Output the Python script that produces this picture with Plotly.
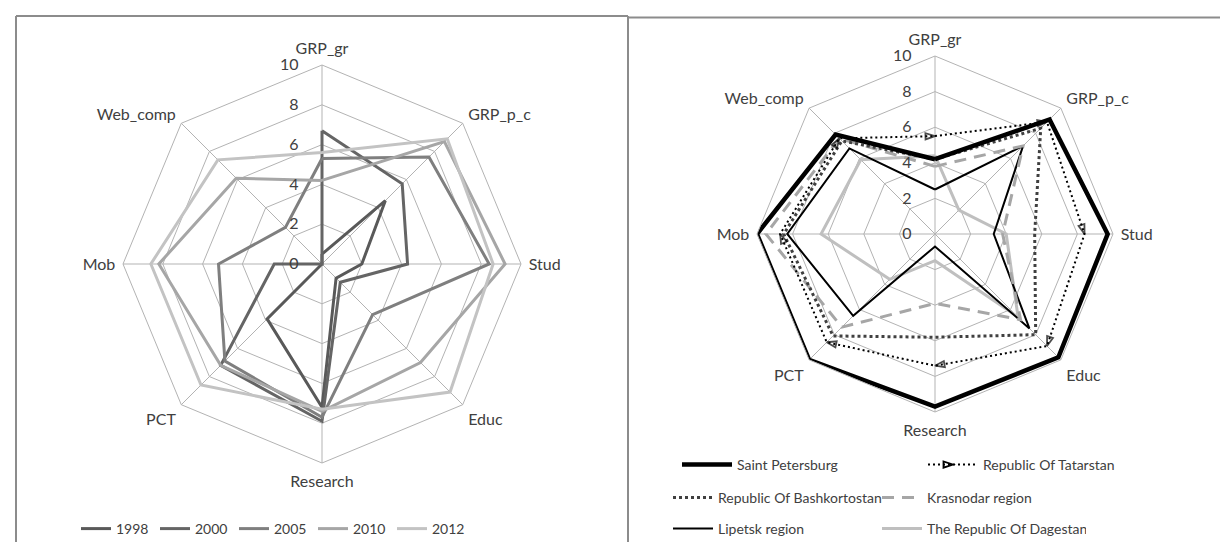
import plotly.graph_objects as go

# ---------------- data ----------------
categories = ["GRP_gr", "GRP_p_c", "Stud", "Educ", "Research", "PCT", "Mob", "Web_comp"]
radial_ticks = [0, 2, 4, 6, 8, 10]

years = ["1998", "2000", "2005", "2010", "2012"]
v1998 = [0.5, 4.5, 2.0, 1.0, 7.2, 3.9, 0.0, 0.0]
v2000 = [6.7, 5.7, 4.3, 1.3, 7.9, 7.2, 2.4, 0.0]
v2005 = [5.3, 7.6, 8.4, 3.6, 7.7, 6.9, 5.2, 2.6]
v2010 = [4.2, 8.7, 9.2, 7.0, 7.4, 7.2, 8.2, 6.1]
v2012 = [5.6, 8.9, 8.6, 9.1, 7.3, 8.6, 8.6, 7.4]

regions = ["Saint Petersburg", "Republic Of Tatarstan", "Republic Of Bashkortostan",
           "Krasnodar region", "Lipetsk region", "The Republic Of Dagestan"]
spb = [4.2, 9.1, 9.7, 9.8, 9.7, 10.0, 10.0, 7.9]
tat = [5.5, 8.9, 8.4, 8.9, 7.4, 8.6, 8.7, 7.6]
bash = [4.2, 8.4, 5.6, 8.0, 5.8, 8.1, 8.5, 7.4]
kras = [3.8, 7.0, 3.8, 6.8, 3.9, 7.4, 9.5, 7.6]
lip = [2.5, 7.0, 3.3, 7.5, 0.7, 6.5, 8.3, 6.8]
dag = [4.4, 1.9, 4.0, 6.6, 1.5, 3.6, 6.4, 5.9]

FONT = "Lato"
TXT = "#404040"
W, H = 1228, 542
PAD = "\u2007\u2007\u2009"  # trailing spacing so radial labels sit left of the axis


def closed(v):
    return list(v) + [v[0]]


theta = closed(categories)
radial_text = [str(t) + PAD for t in radial_ticks]

fig = go.Figure()

# ---------------- left chart ----------------
left_series = [v1998, v2000, v2005, v2010, v2012]
left_colors = ["#595959", "#656565", "#7f7f7f", "#a6a6a6", "#c3c3c3"]
for k, (name, vals, col) in enumerate(zip(years, left_series, left_colors)):
    fig.add_trace(go.Scatterpolar(
        r=closed(vals), theta=theta, mode="lines", name=name, legendrank=k,
        line=dict(color=col, width=3), subplot="polar", legend="legend"))

# ---------------- right chart ----------------
right_styles = [
    (spb, dict(color="#000000", width=4.5), "legend2"),
    (tat, dict(color="#000000", width=2, dash="2px,3px"), "legend2"),
    (bash, dict(color="#404040", width=3, dash="dot"), "legend3"),
    (kras, dict(color="#a6a6a6", width=3, dash="12px,8px"), "legend3"),
    (lip, dict(color="#000000", width=2), "legend4"),
    (dag, dict(color="#bfbfbf", width=3), "legend4"),
]
draw_order = [5, 4, 3, 2, 1, 0]
for i in draw_order:
    vals, ln, lg = right_styles[i]
    if i == 1:
        fig.add_trace(go.Scatterpolar(
            r=closed(vals), theta=theta, mode="lines+markers", name=regions[i],
            line=ln, subplot="polar2", legend=lg, showlegend=False,
            marker=dict(symbol="arrow-open", size=[0] + [10] * len(vals),
                        angleref="previous", color="#000000",
                        line=dict(color="#000000", width=1.8))))
    else:
        fig.add_trace(go.Scatterpolar(
            r=closed(vals), theta=theta, mode="lines", name=regions[i],
            legendrank=i, line=ln, subplot="polar2", legend=lg))

# legend-only entry for Tatarstan (arrow pointing right)
fig.add_trace(go.Scatterpolar(
    r=[None], theta=[None], mode="lines+markers", name=regions[1], legendrank=1,
    line=dict(color="#000000", width=2, dash="2px,3px"),
    marker=dict(symbol="arrow-open", size=10, angle=90, color="#000000",
                line=dict(color="#000000", width=1.8)),
    subplot="polar2", legend="legend2"))


def polar_cfg(cx, cy, rad):
    return dict(
        domain=dict(x=[(cx - rad) / W, (cx + rad) / W],
                    y=[(H - cy - rad) / H, (H - cy + rad) / H]),
        bgcolor="white",
        gridshape="linear",
        angularaxis=dict(rotation=90, direction="clockwise", showgrid=True,
                         gridcolor="#b3b3b3", gridwidth=1, showline=True,
                         linecolor="#b3b3b3", linewidth=1, ticks="outside",
                         ticklen=4, tickcolor="rgba(0,0,0,0)",
                         tickfont=dict(family=FONT, size=16, color=TXT)),
        radialaxis=dict(range=[0, 10], tickvals=radial_ticks, ticktext=radial_text,
                        angle=90, showline=False, showgrid=True, gridcolor="#b3b3b3",
                        gridwidth=1, ticks="", side="counterclockwise",
                        tickangle=90,
                        tickfont=dict(family=FONT, size=16, color=TXT)),
    )


leg_common = dict(orientation="h", bgcolor="rgba(0,0,0,0)",
                  font=dict(family=FONT, size=14, color=TXT),
                  yanchor="middle", xanchor="left", traceorder="normal",
                  entrywidthmode="pixels")

border = "#8c8c8c"
shapes = [
    dict(type="line", xref="paper", yref="paper", x0=8 / W, x1=8 / W, y0=0, y1=1 - 8 / H,
         line=dict(color=border, width=2)),
    dict(type="line", xref="paper", yref="paper", x0=8 / W, x1=620 / W, y0=1 - 8 / H, y1=1 - 8 / H,
         line=dict(color=border, width=2)),
    dict(type="line", xref="paper", yref="paper", x0=620 / W, x1=620 / W, y0=0, y1=1 - 8 / H,
         line=dict(color=border, width=2)),
    dict(type="line", xref="paper", yref="paper", x0=620 / W, x1=1, y0=1 - 9.5 / H, y1=1 - 9.5 / H,
         line=dict(color=border, width=2)),
]

fig.update_layout(
    width=W, height=H,
    margin=dict(l=0, r=0, t=0, b=0),
    paper_bgcolor="white",
    plot_bgcolor="white",
    polar=polar_cfg(314, 256, 199),
    polar2=polar_cfg(927, 226, 178),
    legend=dict(leg_common, x=68 / W, y=(H - 521) / H, entrywidth=34),
    legend2=dict(leg_common, x=669 / W, y=(H - 457) / H, entrywidth=181, itemwidth=50),
    legend3=dict(leg_common, x=660 / W, y=(H - 490) / H, entrywidth=154, itemwidth=40),
    legend4=dict(leg_common, x=660 / W, y=(H - 521) / H, entrywidth=154, itemwidth=40),
    shapes=shapes,
)

fig.write_html("out.html")
